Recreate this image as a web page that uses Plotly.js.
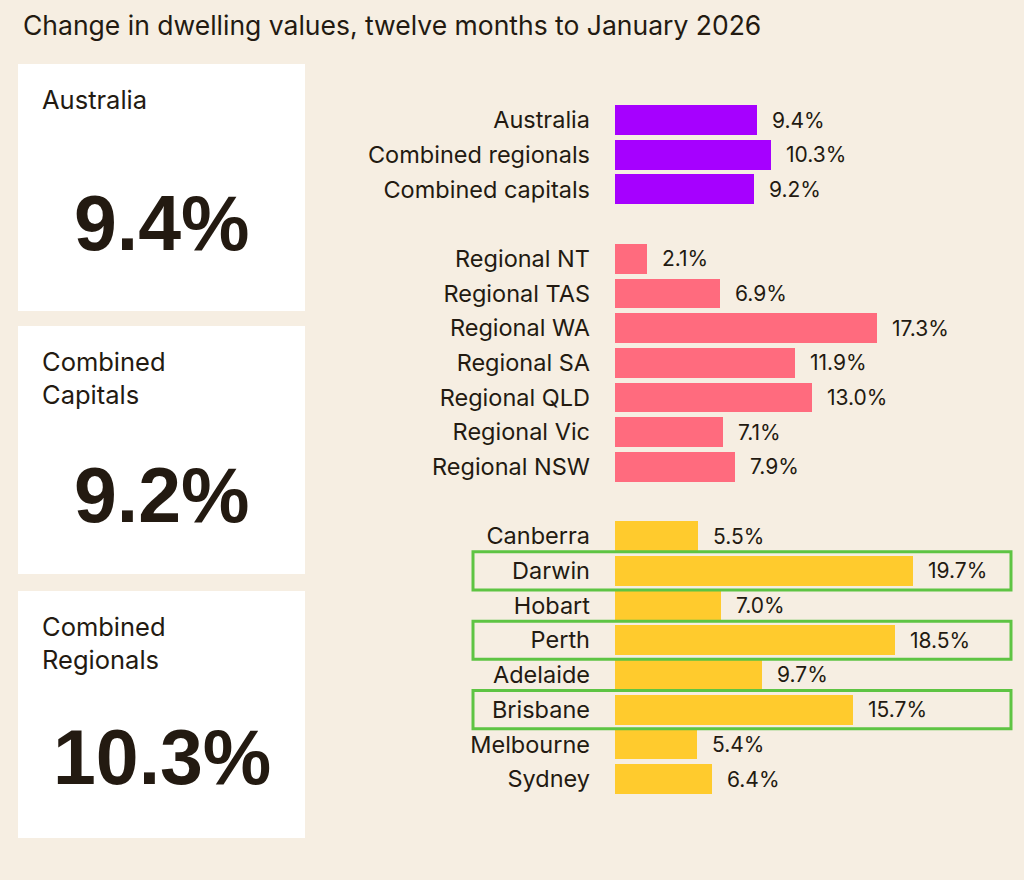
<!DOCTYPE html>
<html>
<head>
<meta charset="utf-8">
<script src="https://cdn.plot.ly/plotly-3.0.1.min.js"></script>
<style>html,body{margin:0;padding:0;background:#f6eee2;}#chart{width:1024px;height:880px;}</style>
</head>
<body>
<div id="chart"></div>
<script>
// ---- data ----
const summaryNames = ["Australia", "Combined regionals", "Combined capitals"];
const summaryValues = [9.4, 10.3, 9.2];
const regionalNames = ["Regional NT", "Regional TAS", "Regional WA", "Regional SA", "Regional QLD", "Regional Vic", "Regional NSW"];
const regionalValues = [2.1, 6.9, 17.3, 11.9, 13.0, 7.1, 7.9];
const capitalNames = ["Canberra", "Darwin", "Hobart", "Perth", "Adelaide", "Brisbane", "Melbourne", "Sydney"];
const capitalValues = [5.5, 19.7, 7.0, 18.5, 9.7, 15.7, 5.4, 6.4];
const highlighted = ["Darwin", "Perth", "Brisbane"];
const cardTitles = ["Australia", "Combined<br>Capitals", "Combined<br>Regionals"];
const cardValues = ["9.4%", "9.2%", "10.3%"];
const titleText = "Change in dwelling values, twelve months to January 2026";

// ---- styling ----
const BG = "#f6eee2";
const INK = "#231a11";
const FONT = "Inter, 'Liberation Sans', sans-serif";
const BIG = "'Liberation Sans', Arial, sans-serif";
const groups = [
  {names: summaryNames, values: summaryValues, color: "#a600ff"},
  {names: regionalNames, values: regionalValues, color: "#ff6b7e"},
  {names: capitalNames, values: capitalValues, color: "#ffcb2d"}
];

const traces = [];
const tickvals = [], ticktext = [];
const annotations = [];
const shapes = [];
let pos = 0;
groups.forEach((g, gi) => {
  const ys = g.names.map((n, i) => pos + i);
  ys.forEach((y, i) => {
    tickvals.push(y); ticktext.push(g.names[i]);
    annotations.push({
      x: g.values[i], y: y, xref: "x", yref: "y",
      text: g.values[i].toFixed(1) + "%", showarrow: false,
      xanchor: "left", yanchor: "middle", xshift: 13,
      font: {family: FONT, size: 21, color: INK}
    });
    if (highlighted.includes(g.names[i])) {
      shapes.push({type: "rect", xref: "paper", yref: "y",
        x0: 473/1024, x1: 1011/1024, y0: y - 0.55, y1: y + 0.55,
        line: {color: "#5ec443", width: 3}, fillcolor: "rgba(0,0,0,0)", layer: "above"});
    }
  });
  traces.push({
    type: "bar", orientation: "h", x: g.values, y: ys,
    marker: {color: g.color}, width: 0.86, hoverinfo: "skip", showlegend: false
  });
  pos += g.names.length + 1;
});

// left cards
const cardTops = [64, 326, 591];
const cardBottoms = [311, 574, 838];
const cardNumY = [223, 495, 757];
cardTops.forEach((t, i) => {
  shapes.push({type: "rect", xref: "paper", yref: "paper",
    x0: 18/1024, x1: 305/1024, y0: 1 - cardBottoms[i]/880, y1: 1 - t/880,
    fillcolor: "#ffffff", line: {width: 0}, layer: "below"});
  annotations.push({xref: "paper", yref: "paper", x: 40/1024, y: 1 - (t + 18)/880,
    xanchor: "left", yanchor: "top", align: "left", showarrow: false,
    text: cardTitles[i], font: {family: FONT, size: 25.5, color: INK}});
  annotations.push({xref: "paper", yref: "paper", x: 162/1024, y: 1 - cardNumY[i]/880,
    xanchor: "center", yanchor: "middle", showarrow: false,
    text: "<b>" + cardValues[i] + "</b>", font: {family: BIG, size: 77, color: INK}});
});

annotations.push({xref: "paper", yref: "paper", x: 21/1024, y: 1 - 25/880,
  xanchor: "left", yanchor: "middle", showarrow: false,
  text: titleText, font: {family: FONT, size: 26.5, color: INK}});

const rowPx = (779 - 120) / 19;
const layout = {
  width: 1024, height: 880,
  margin: {l: 0, r: 0, t: 0, b: 0},
  paper_bgcolor: BG, plot_bgcolor: "rgba(0,0,0,0)",
  font: {family: FONT, color: INK},
  xaxis: {domain: [615/1024, 1], range: [0, 409/15.15], visible: false, fixedrange: true},
  yaxis: {domain: [0, 1], range: [(880 - 120)/rowPx, -120/rowPx],
    tickvals: tickvals, ticktext: ticktext, showgrid: false, zeroline: false,
    showline: false, ticks: "", ticklabelstandoff: 24,
    tickfont: {family: FONT, size: 23.5, color: INK}, fixedrange: true},
  bargap: 0,
  shapes: shapes,
  annotations: annotations
};
Plotly.newPlot("chart", traces, layout, {displayModeBar: false, staticPlot: true});
</script>
</body>
</html>
